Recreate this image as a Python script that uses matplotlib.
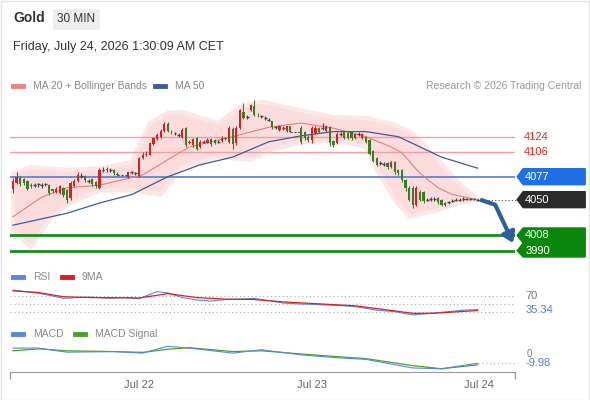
import matplotlib
matplotlib.use("Agg")
import matplotlib.pyplot as plt
from matplotlib.patches import Polygon, FancyBboxPatch, Rectangle
from matplotlib.lines import Line2D

plt.rcParams['font.family'] = ['Liberation Sans', 'DejaVu Sans']

# ---------------- data ----------------
slots = [0,1,2,3,4,5,6,7,8,9,10,11,12,13,14,15,16,17,18,19,20,21,22,23,24,25,26,27,28,29,
         32,33,34,35,36,37,38,39,40,41,42,43,44,45,46,47,48,49,50,51,52,53,54,55,56,57,58,59,60,
         61,62,63,64,65,66,67,68,69,70,71,72,73,74,75,76,77,
         80,81,82,83,84,85,86,87,88,89,90,91,92,93,94,95,96,97,98,99,100,101,102,103,104,105,
         106,107,108,109,110,111,112,113,114,115,116,117,118,119,120,121,122,123,124,125,126,127,128,129]
opens = [4062,4070,4076,4074,4072,4067,4067,4068,4067,4068,4067,4062,4059,4058,4064,4061,4052,4066,4072,4078,
         4078,4072,4074,4071,4064,4085,4085,4085,4085,4080,
         4077,4082,4081,4078,4099,4102,4103,4115,4121,4124,4131,4139,4130,4128,4126,4124,4134,4117,4114,4122,
         4112,4118,4117,4121,4120,4118,4119,4122,4118,4133,4116,4134,4153,4147,4155,4160,4150,4148,4146,4144,
         4142,4135,4132,4134,4131,4136,
         4134,4129,4124,4120,4128,4134,4134,4131,4135,4119,4116,4127,4129,4128,4129,4122,4127,4122,4124,4120,
         4107,4099,4093,4092,4093,4088,4094,4085,4085,4073,4064,4064,4044,4059,4059,4050,4051,4051,4052,4050,
         4044,4047,4049,4050,4050,4051,4051,4051,4051,4050]
highs = [4075,4083,4078,4075,4073,4069,4070,4070,4070,4070,4068,4063,4065,4067,4065,4062,4072,4074,4082,4081,
         4079,4074,4075,4072,4087,4088,4088,4087,4086,4082,
         4083,4084,4083,4100,4106,4107,4117,4124,4128,4133,4141,4141,4132,4130,4128,4134,4135,4120,4123,4124,
         4120,4120,4122,4122,4121,4120,4125,4124,4136,4135,4136,4157,4164,4150,4163,4167,4152,4150,4148,4146,
         4143,4137,4138,4136,4137,4137,
         4136,4131,4126,4136,4136,4135,4140,4138,4137,4120,4129,4129,4130,4129,4130,4128,4129,4128,4125,4121,
         4108,4100,4095,4094,4094,4095,4095,4086,4086,4074,4066,4066,4066,4061,4060,4052,4053,4053,4053,4051,
         4047,4049,4051,4052,4052,4053,4052,4052,4052,4051]
lows = [4058,4068,4066,4067,4061,4064,4065,4065,4064,4066,4056,4058,4058,4057,4053,4046,4050,4065,4071,4076,
        4071,4070,4066,4064,4063,4083,4083,4083,4079,4078,
        4076,4080,4079,4077,4098,4101,4102,4114,4120,4123,4130,4129,4127,4126,4124,4123,4112,4115,4112,4108,
        4111,4116,4116,4113,4115,4116,4118,4120,4117,4110,4114,4133,4145,4145,4154,4148,4147,4146,4144,4142,
        4133,4133,4131,4132,4130,4129,
        4115,4120,4118,4116,4127,4128,4132,4130,4113,4112,4115,4125,4121,4121,4120,4121,4125,4121,4116,4102,
        4094,4089,4091,4090,4086,4087,4080,4079,4071,4060,4048,4040,4042,4048,4046,4048,4049,4049,4045,4043,
        4043,4045,4047,4048,4049,4049,4050,4050,4050,4049]
closes = [4072,4077,4068,4069,4063,4066,4067,4068,4067,4068,4058,4060,4063,4066,4055,4050,4070,4072,4079,4078,
          4073,4072,4068,4066,4085,4085,4086,4085,4081,4079,
          4082,4082,4081,4099,4102,4104,4116,4122,4126,4131,4139,4131,4129,4128,4126,4132,4114,4118,4121,4110,
          4118,4118,4120,4115,4116,4118,4123,4121,4134,4115,4134,4155,4146,4147,4161,4150,4149,4148,4146,4144,
          4135,4135,4136,4134,4136,4130,
          4118,4122,4120,4134,4134,4130,4134,4137,4116,4114,4127,4127,4123,4123,4122,4127,4127,4127,4118,4104,
          4096,4091,4093,4092,4088,4094,4082,4081,4073,4064,4050,4044,4064,4050,4048,4050,4051,4051,4047,4044,
          4046,4047,4049,4050,4050,4051,4051,4051,4051,4050]

ma20_x = [0, 8, 15, 24, 36, 43, 49, 61, 71, 80, 89, 98, 105, 108, 113, 118, 122, 129]
ma20_y = [4030, 4053, 4064, 4067, 4079, 4097, 4112, 4124, 4135, 4140, 4134, 4124, 4112, 4105, 4081, 4064, 4056, 4050]
ma50_x = [0, 15, 24, 33, 43, 52, 61, 71, 80, 89, 98, 107, 113, 119, 129]
ma50_y = [4020, 4034, 4046, 4056, 4077, 4091, 4100, 4118, 4125, 4130, 4130, 4124, 4112, 4100, 4087]
bb_up_x = [0, 5, 15, 24, 33, 38, 43, 47, 57, 63, 69, 80, 89, 98, 106, 111, 118, 123, 129]
bb_up_y = [4081, 4088, 4085, 4087, 4094, 4140, 4152, 4153, 4140, 4159, 4165, 4155, 4147, 4146, 4138, 4128, 4097, 4073, 4050]
bb_lo_x = [0, 5, 10, 15, 24, 33, 41, 47, 57, 66, 71, 80, 89, 98, 101, 106, 110, 118, 124, 129]
bb_lo_y = [4014, 3994, 4026, 4044, 4061, 4061, 4056, 4088, 4100, 4097, 4108, 4117, 4120, 4112, 4085, 4050, 4030, 4038, 4046, 4050]

levels_red = [4124, 4106]
level_blue = 4077
level_last = 4050
levels_green = [4008, 3990]
proj_x = [129.7, 133.9, 138.9]
proj_y = [4050, 4044, 3999]

rsi_x = [0, 7, 10, 14, 18, 22, 27, 31, 35, 38, 40, 43, 47, 51, 55, 59, 63, 67, 71, 75, 79, 85, 90, 95, 101, 106, 111, 114, 117, 122, 125, 129]
rsi_y = [85, 77, 72, 64, 66, 67, 64, 66, 63, 74, 81, 78, 66, 60, 57, 61, 62, 64, 58, 52, 50, 48, 46, 43, 34, 30, 22, 24, 27, 31, 34, 35.34]
rsi_ma_x = [0, 7, 14, 22, 35, 43, 51, 59, 67, 75, 85, 95, 101, 111, 117, 122, 129]
rsi_ma_y = [83, 79, 68, 66, 65, 76, 66, 62, 61, 55, 50, 45, 38, 26, 26, 29, 33]
macd_x = [0, 7, 15, 28, 36, 43, 49, 61, 69, 80, 90, 98, 111, 119, 129]
macd_y = [9.5, 9.5, 4.2, 5, 3, 11.8, 9.5, 3, 7.4, 0.7, -2.9, -5, -16, -17, -9.98]
sig_y = [6, 8.5, 6, 5, 4, 8, 10, 5, 6, 2, -1.5, -4, -13, -17, -12]

tick_pos = [35, 83, 129.4]
tick_lab = ["Jul 22", "Jul 23", "Jul 24"]

# ---------------- layout ----------------
W, H = 590, 400
fig = plt.figure(figsize=(W/100, H/100), dpi=100)
fig.patch.set_facecolor('white')
fx = lambda x: x / W
fy = lambda y: 1 - y / H

XL = (-0.83, 139.4)
PX = 3.6  # pixels per slot

def pxs(p):  # horizontal pixel -> slot
    return (p - 13) / PX

ax = fig.add_axes([fx(10), fy(265), fx(505), 170/H])
ax.set_xlim(*XL)
ax.set_ylim(3973.2, 4173)
ax.axis('off')

RED = '#c62828'
GRN = '#3e7b27'

# Bollinger band as one polygon: upper edge forward, lower edge back
band_pts = list(zip(bb_up_x, bb_up_y)) + list(zip(bb_lo_x[::-1], bb_lo_y[::-1]))
ax.add_patch(Polygon(band_pts, closed=True, facecolor='#fcdcdc', edgecolor='#fce6e6', lw=3,
                     joinstyle='round', zorder=1))

# horizontal levels
for lv in levels_red:
    ax.axhline(lv, color='#f0a0a0', lw=1.0, zorder=2)
ax.axhline(level_blue, color='#4f7fd6', lw=1.2, zorder=2)
for lv in levels_green:
    ax.axhline(lv, color='#1c8a1c', lw=2.0, zorder=2)

# moving averages
ax.plot(ma20_x, ma20_y, color='#e8807a', lw=0.8, zorder=3)
ax.plot(ma50_x, ma50_y, color='#3b5e99', lw=0.9, zorder=3)

# candles
for s, o, h, l, c in zip(slots, opens, highs, lows, closes):
    col = RED if c > o else (GRN if c < o else '#444444')
    ax.vlines(s, l, h, color=col, lw=0.8, zorder=4)
    if c != o:
        ax.bar(s, c - o, bottom=o, width=0.62, color=col, lw=0, zorder=5)
    else:
        ax.hlines(o, s - 0.4, s + 0.4, color=col, lw=1.0, zorder=5)

# session gap dashes
for a, b in [(29, 32), (77, 80)]:
    ia = slots.index(a)
    ax.plot([a, b], [closes[ia], closes[ia]], color='#555555', lw=0.8, ls=(0, (2, 1.5)), zorder=4)

# last price dotted
ax.plot([slots[-1], pxs(517)], [level_last, level_last], color='#444444', lw=0.8, ls=(0, (1, 2)),
        zorder=4, clip_on=False)

# projection arrow
ax.plot(proj_x[:2], proj_y[:2], color='#2c5fa0', lw=3, solid_capstyle='butt', zorder=6, clip_on=False)
ax.annotate('', xy=(proj_x[2], proj_y[2]), xytext=(proj_x[1], proj_y[1]),
            arrowprops=dict(arrowstyle='-|>,head_length=0.6,head_width=0.4', color='#2c5fa0', lw=3,
                            shrinkA=0, shrinkB=0), annotation_clip=False, zorder=6)

# price tags
PU = 1.175  # price per pixel
x0, x1, x2 = pxs(517), pxs(523), pxs(585)
def tag(price, color, half=8):
    pts = [(x0, price), (x1, price + half*PU), (x2, price + half*PU), (x2, price - half*PU), (x1, price - half*PU)]
    ax.add_patch(Polygon(pts, closed=True, color=color, clip_on=False, zorder=7))
tag(level_blue, '#1f6fe5')
tag(level_last, '#2b2b2b')
gtop, gbot = 4016.7, 3982.6
gpts = [(x1, gtop), (x2, gtop), (x2, gbot), (x1, gbot), (x0, levels_green[1]), (x1, 3999), (x0, levels_green[0])]
ax.add_patch(Polygon(gpts, closed=True, color='#0a870a', clip_on=False, zorder=7))
for lv in [level_blue, level_last] + levels_green:
    ax.text(pxs(525), lv, f"{lv}", color='white', fontsize=8, va='center', ha='left', clip_on=False, zorder=8)
for lv in levels_red:
    ax.text(pxs(524), lv, f"{lv}", color='#d5302c', fontsize=8, va='center', ha='left', clip_on=False)

# ---------------- RSI ----------------
ar = fig.add_axes([fx(10), fy(320), fx(505), 34/H])
ar.set_xlim(*XL); ar.set_ylim(8.9, 95.4); ar.axis('off')
for lv in [70, 50, 30]:
    ar.axhline(lv, color='#aaaaaa', lw=0.8, ls=(0, (1, 2.5)))
ar.plot(rsi_x, rsi_y, color='#5b87d6', lw=0.8)
ar.plot(rsi_ma_x, rsi_ma_y, color='#d82020', lw=0.9)
ar.text(pxs(525), 70, "70", color='#777777', fontsize=8, va='center', ha='left', clip_on=False)
ar.text(pxs(525), rsi_y[-1], f"{rsi_y[-1]:.2f}", color='#5b7fc7', fontsize=8, va='center', ha='left', clip_on=False)

# ---------------- MACD ----------------
am = fig.add_axes([fx(10), fy(371), fx(505), 28/H])
am.set_xlim(*XL); am.set_ylim(-19.9, 16); am.axis('off')
am.plot(macd_x, sig_y, color='#4aa02c', lw=0.9)
am.plot(macd_x, macd_y, color='#5b87d6', lw=0.8)
am.plot([macd_x[-1], XL[1]], [macd_y[-1], macd_y[-1]], color='#aaaaaa', lw=0.8, ls=(0, (1, 2.5)))
am.text(pxs(526), 2.5, "0", color='#777777', fontsize=7, va='center', ha='left', clip_on=False)
am.text(pxs(525), macd_y[-1], f"{macd_y[-1]:.2f}", color='#5b7fc7', fontsize=8, va='center', ha='left',
        clip_on=False)

# ---------------- time axis ----------------
at = fig.add_axes([fx(10), fy(372), fx(505), 0.0001])
at.set_xlim(*XL)
at.set_yticks([])
for sp in ['top', 'left', 'right']:
    at.spines[sp].set_visible(False)
at.spines['bottom'].set_color('#999999')
at.set_xticks(tick_pos)
at.set_xticklabels(tick_lab)
at.tick_params(axis='x', length=0, pad=6, labelsize=8, labelcolor='#666666')
at.set_xticks(list(XL), minor=True)
at.tick_params(axis='x', which='minor', length=5, color='#999999', width=1)

# ---------------- header / legends ----------------
fig.text(fx(13), fy(18), "Gold", fontsize=10, fontweight='bold', color='#333333', va='center')
fig.patches.append(FancyBboxPatch((fx(53), fy(30)), fx(47), 21/H, boxstyle='round,pad=0,rounding_size=0.005',
                                  transform=fig.transFigure, facecolor='#eeeeee', edgecolor='none'))
fig.text(fx(76.5), fy(19), "30 MIN", fontsize=8.5, color='#333333', va='center', ha='center')
fig.text(fx(13), fy(47), "Friday, July 24, 2026 1:30:09 AM CET", fontsize=9, color='#333333', va='center')

def legend_item(x, y, color, label):
    fig.add_artist(Line2D([fx(x), fx(x + 10)], [fy(y), fy(y)], color=color, lw=3.5, transform=fig.transFigure))
    fig.text(fx(x + 20), fy(y), label, fontsize=7.5, color='#888888', va='center')

legend_item(13, 86, '#f08080', "MA 20 + Bollinger Bands")
legend_item(155, 86, '#3b5e99', "MA 50")
fig.text(fx(581), fy(86), "Research \u00a9 2026 Trading Central", fontsize=7.5, color='#999999', va='center', ha='right')
legend_item(13, 277, '#5b87d6', "RSI")
legend_item(62, 277, '#d82020', "9MA")
legend_item(13, 334, '#5b87d6', "MACD")
legend_item(75, 334, '#4aa02c', "MACD Signal")

# border
fig.patches.append(Rectangle((0.001, 0.001), 0.998, 0.997, transform=fig.transFigure,
                             facecolor='none', edgecolor='#e4e4e4', lw=1))

fig.savefig("out.png", dpi=100)
